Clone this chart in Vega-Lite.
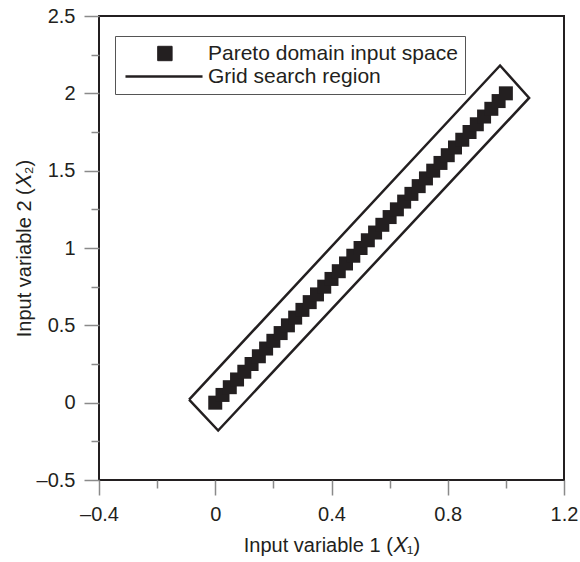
{
  "$schema": "https://vega.github.io/schema/vega-lite/v6.json",
  "width": 465,
  "height": 464,
  "autosize": "none",
  "padding": {"left": 99, "top": 16, "right": 16, "bottom": 82},
  "config": {
    "font": "Liberation Sans",
    "view": {"stroke": "#231f20", "strokeWidth": 2}
  },
  "datasets": {
    "pareto": [
      {"x1": 0, "x2": 0, "series": "Pareto domain input space"},
      {"x1": 0.025, "x2": 0.05, "series": "Pareto domain input space"},
      {"x1": 0.05, "x2": 0.1, "series": "Pareto domain input space"},
      {"x1": 0.075, "x2": 0.15, "series": "Pareto domain input space"},
      {"x1": 0.1, "x2": 0.2, "series": "Pareto domain input space"},
      {"x1": 0.125, "x2": 0.25, "series": "Pareto domain input space"},
      {"x1": 0.15, "x2": 0.3, "series": "Pareto domain input space"},
      {"x1": 0.175, "x2": 0.35, "series": "Pareto domain input space"},
      {"x1": 0.2, "x2": 0.4, "series": "Pareto domain input space"},
      {"x1": 0.225, "x2": 0.45, "series": "Pareto domain input space"},
      {"x1": 0.25, "x2": 0.5, "series": "Pareto domain input space"},
      {"x1": 0.275, "x2": 0.55, "series": "Pareto domain input space"},
      {"x1": 0.3, "x2": 0.6, "series": "Pareto domain input space"},
      {"x1": 0.325, "x2": 0.65, "series": "Pareto domain input space"},
      {"x1": 0.35, "x2": 0.7, "series": "Pareto domain input space"},
      {"x1": 0.375, "x2": 0.75, "series": "Pareto domain input space"},
      {"x1": 0.4, "x2": 0.8, "series": "Pareto domain input space"},
      {"x1": 0.425, "x2": 0.85, "series": "Pareto domain input space"},
      {"x1": 0.45, "x2": 0.9, "series": "Pareto domain input space"},
      {"x1": 0.475, "x2": 0.95, "series": "Pareto domain input space"},
      {"x1": 0.5, "x2": 1.0, "series": "Pareto domain input space"},
      {"x1": 0.525, "x2": 1.05, "series": "Pareto domain input space"},
      {"x1": 0.55, "x2": 1.1, "series": "Pareto domain input space"},
      {"x1": 0.575, "x2": 1.15, "series": "Pareto domain input space"},
      {"x1": 0.6, "x2": 1.2, "series": "Pareto domain input space"},
      {"x1": 0.625, "x2": 1.25, "series": "Pareto domain input space"},
      {"x1": 0.65, "x2": 1.3, "series": "Pareto domain input space"},
      {"x1": 0.675, "x2": 1.35, "series": "Pareto domain input space"},
      {"x1": 0.7, "x2": 1.4, "series": "Pareto domain input space"},
      {"x1": 0.725, "x2": 1.45, "series": "Pareto domain input space"},
      {"x1": 0.75, "x2": 1.5, "series": "Pareto domain input space"},
      {"x1": 0.775, "x2": 1.55, "series": "Pareto domain input space"},
      {"x1": 0.8, "x2": 1.6, "series": "Pareto domain input space"},
      {"x1": 0.825, "x2": 1.65, "series": "Pareto domain input space"},
      {"x1": 0.85, "x2": 1.7, "series": "Pareto domain input space"},
      {"x1": 0.875, "x2": 1.75, "series": "Pareto domain input space"},
      {"x1": 0.9, "x2": 1.8, "series": "Pareto domain input space"},
      {"x1": 0.925, "x2": 1.85, "series": "Pareto domain input space"},
      {"x1": 0.95, "x2": 1.9, "series": "Pareto domain input space"},
      {"x1": 0.975, "x2": 1.95, "series": "Pareto domain input space"},
      {"x1": 1.0, "x2": 2.0, "series": "Pareto domain input space"}
    ],
    "region": [
      {"k": 0, "x1": -0.09, "x2": 0.02, "series": "Grid search region"},
      {"k": 1, "x1": 0.01, "x2": -0.18, "series": "Grid search region"},
      {"k": 2, "x1": 1.08, "x2": 1.97, "series": "Grid search region"},
      {"k": 3, "x1": 0.98, "x2": 2.18, "series": "Grid search region"},
      {"k": 4, "x1": -0.09, "x2": 0.02, "series": "Grid search region"}
    ]
  },
  "encoding": {
    "x": {
      "field": "x1",
      "type": "quantitative",
      "scale": {"domain": [-0.4, 1.2], "nice": false, "zero": false},
      "axis": {
        "values": [-0.4, -0.2, 0, 0.2, 0.4, 0.6, 0.8, 1.0, 1.2],
        "domain": false,
        "grid": false,
        "tickColor": "#8a8a8a",
        "tickWidth": 1.5,
        "tickSize": {"condition": {"test": "abs(datum.value*2.5 - round(datum.value*2.5)) < 0.01", "value": 15}, "value": 8},
        "labelExpr": "abs(datum.value*2.5 - round(datum.value*2.5)) < 0.01 ? replace(toString(round(datum.value*10)/10), '-', '–') : ''",
        "labelFontSize": 20,
        "labelColor": "#231f20",
        "labelPadding": 9,
        "labelFlush": false,
        "title": "Input variable 1 (𝑋₁)",
        "titleFontSize": 20,
        "titleFontWeight": "normal",
        "titleColor": "#231f20",
        "titlePadding": 11
      }
    },
    "y": {
      "field": "x2",
      "type": "quantitative",
      "scale": {"domain": [-0.5, 2.5], "nice": false, "zero": false},
      "axis": {
        "values": [-0.5, -0.25, 0, 0.25, 0.5, 0.75, 1, 1.25, 1.5, 1.75, 2, 2.25, 2.5],
        "domain": false,
        "grid": false,
        "tickColor": "#8a8a8a",
        "tickWidth": 1.5,
        "tickSize": {"condition": {"test": "abs(datum.value*2 - round(datum.value*2)) < 0.01", "value": 15}, "value": 8},
        "labelExpr": "abs(datum.value*2 - round(datum.value*2)) < 0.01 ? replace(toString(datum.value), '-', '–') : ''",
        "labelFontSize": 20,
        "labelColor": "#231f20",
        "labelPadding": 9,
        "labelFlush": false,
        "title": "Input variable 2 (𝑋₂)",
        "titleFontSize": 20,
        "titleFontWeight": "normal",
        "titleColor": "#231f20",
        "titlePadding": 2
      }
    },
    "color": {
      "field": "series",
      "type": "nominal",
      "scale": {"domain": ["Pareto domain input space", "Grid search region"], "range": ["#231f20", "#231f20"]},
      "legend": {
        "title": null,
        "orient": "none",
        "legendX": 16,
        "legendY": 20,
        "direction": "vertical",
        "strokeColor": "#555555",
        "fillColor": "white",
        "padding": 7,
        "symbolSize": 144,
        "symbolType": "square",
        "symbolStrokeWidth": 2,
        "labelOffset": 65,
        "labelFontSize": 21,
        "labelColor": "#231f20",
        "labelLimit": 400,
        "rowPadding": 1,
        "encode": {
          "symbols": {
            "update": {
              "shape": {"signal": "datum.value == 'Grid search region' ? 'M-1.17,0H11.67' : 'M4.2,-1.2H6.6V1.2H4.2Z'"},
              "fill": {"value": "#231f20"},
              "stroke": {"value": "#231f20"},
              "strokeWidth": {"signal": "datum.value == 'Grid search region' ? 2.5 : 1"},
              "opacity": {"value": 1}
            }
          }
        }
      }
    }
  },
  "layer": [
    {
      "data": {"name": "region"},
      "mark": {"type": "line", "strokeWidth": 2.5},
      "encoding": {"order": {"field": "k", "type": "quantitative"}}
    },
    {
      "data": {"name": "pareto"},
      "mark": {"type": "point", "shape": "square", "filled": true, "size": 196, "opacity": 1}
    }
  ]
}
